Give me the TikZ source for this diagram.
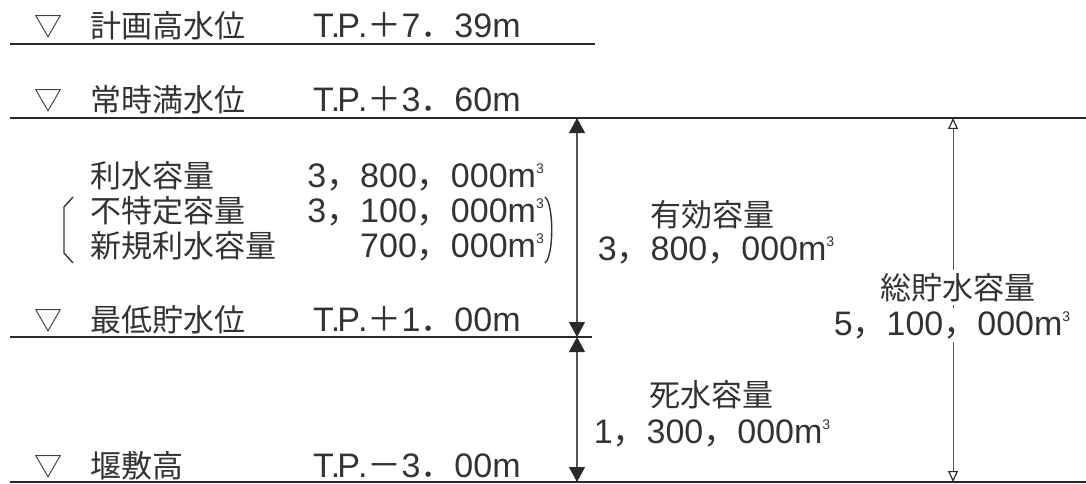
\documentclass[tikz,border=0pt]{standalone}
\usepackage{fontspec}
\setmainfont{Liberation Sans}
\newfontfamily\jp{Noto Sans CJK JP}
\usetikzlibrary{arrows.meta}
\definecolor{ink}{HTML}{333333}
\definecolor{rule}{HTML}{2A2A2A}
\definecolor{shaft}{HTML}{555555}
\newcommand\cubicm{m{\fontsize{14}{14}\selectfont\raisebox{14pt}{3}}}
\newcommand\tp{T\kern-3pt.\kern-3pt P\kern-2pt.}
\newcommand\jc{{\jp ，}}
\newcommand\jd{{\jp ．}}
\begin{document}
\begin{tikzpicture}[x=1pt,y=-1pt,
  jl/.style={font=\jp\fontsize{31}{33}\selectfont, text=ink, inner sep=0pt, anchor=base west},
  nl/.style={font=\fontsize{34}{36}\selectfont, text=ink, inner sep=0pt, anchor=base west},
  nr/.style={font=\fontsize{34}{36}\selectfont, text=ink, inner sep=0pt, anchor=base east},
  cl/.style={font=\jp\fontsize{31}{33}\selectfont, text=ink, inner sep=0pt, anchor=base},
  cn/.style={font=\fontsize{34}{36}\selectfont, text=ink, inner sep=0pt, anchor=base},
  tri/.style={font=\jp\fontsize{28}{30}\selectfont, text=ink, inner sep=0pt, anchor=base},
  level/.style={draw=rule, line width=2pt},
  bigarrow/.style={draw=shaft, line width=1.1pt, {Triangle[width=16pt,length=15pt,color=rule]}-{Triangle[width=16pt,length=15pt,color=rule]}},
  thinarrow/.style={draw=shaft, line width=0.9pt, {Triangle[open,width=10pt,length=11pt,color=rule,line width=1.2pt]}-{Triangle[open,width=10pt,length=11pt,color=rule,line width=1.2pt]}},
  brk/.style={draw=ink, line width=1.4pt},
  gap/.style={fill=white, inner sep=3pt}
]
\useasboundingbox (0,0) rectangle (1086,484);
% level lines
\coordinate (h1a) at (10,44);  \coordinate (h1b) at (595,44);
\coordinate (h2a) at (10,118); \coordinate (h2b) at (1086,118);
\coordinate (h3a) at (10,337); \coordinate (h3b) at (592,337);
\coordinate (h4a) at (10,482); \coordinate (h4b) at (1086,482);
\draw[level] (h1a) -- (h1b);
\draw[level] (h2a) -- (h2b);
\draw[level] (h3a) -- (h3b);
\draw[level] (h4a) -- (h4b);
% row 1
\node[tri] (t1) at (48,37) {▽};
\node[jl] (l1) at (90,38) {計画高水位};
\node[nl] (v1) at (313,38) {\tp{\jp ＋}7\jd 39m};
% row 2
\node[tri] (t2) at (48,111) {▽};
\node[jl] (l2) at (90,112) {常時満水位};
\node[nl] (v2) at (313,112) {\tp{\jp ＋}3\jd 60m};
% capacities
\node[jl] (c1) at (90,187) {利水容量};
\node[nr] (n1) at (544,187) {3\jc 800\jc 000\cubicm};
\node[jl] (c2) at (90,222) {不特定容量};
\node[nr] (n2) at (544,222) {3\jc 100\jc 000\cubicm};
\node[jl] (c3) at (90,257) {新規利水容量};
\node[nr] (n3) at (544,257) {700\jc 000\cubicm};
\draw[brk] (73,197) -- (64,207) -- (64,253) -- (73,263);
\draw[brk] (545,197) .. controls (554,204) and (554,256) .. (545,263);
% row 3
\node[tri] (t3) at (48,330) {▽};
\node[jl] (l3) at (90,331) {最低貯水位};
\node[nl] (v3) at (313,331) {\tp{\jp ＋}1\jd 00m};
% row 4
\node[tri] (t4) at (48,476) {▽};
\node[jl] (l4) at (90,477) {堰敷高};
\node[nl] (v4) at (313,477) {\tp{\jp －}3\jd 00m};
% arrows
\coordinate (a1) at (577,118);
\coordinate (a2) at (577,337);
\coordinate (a3) at (577,482);
\coordinate (b1) at (953,118);
\coordinate (b2) at (953,482);
\draw[bigarrow] (a1) -- (a2);
\draw[bigarrow] (a2) -- (a3);
\draw[thinarrow] (b1) -- (b2);
% right labels
\node[cl] (e1) at (712,226) {有効容量};
\node[cn] (e2) at (716,260) {3\jc 800\jc 000\cubicm};
\node[cl, gap] (g1) at (958,299) {総貯水容量};
\node[cn, gap] (g2) at (952,335) {5\jc 100\jc 000\cubicm};
\node[cl] (d1) at (711,406) {死水容量};
\node[cn] (d2) at (712,443) {1\jc 300\jc 000\cubicm};
\end{tikzpicture}
\end{document}
